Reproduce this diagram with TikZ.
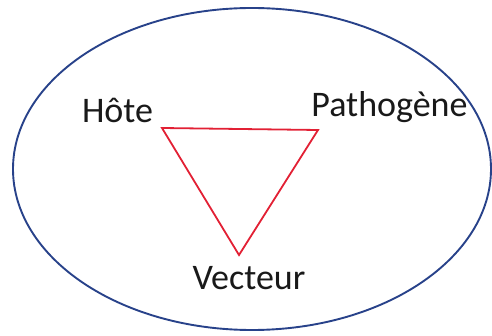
\documentclass[tikz,border=0pt]{standalone}
\usepackage{fontspec}
\setmainfont{Carlito}
\definecolor{ovalblue}{RGB}{40,66,138}
\definecolor{trired}{RGB}{226,32,52}
\tikzset{
    vertexlabel/.style={anchor=base, inner sep=0pt, font=\fontsize{36}{40}\selectfont, text=black!90}
}

\begin{document}
\begin{tikzpicture}[x=1pt,y=-1pt]
    \useasboundingbox (0,0) rectangle (492,336);

    % draw the oval
        \draw[ovalblue, line width=1.9pt] (252,169) ellipse [x radius=239, y radius=161];

    % mark corners of the triangle
        \coordinate (host) at (162,128);
        \coordinate (pathogen) at (318,130);
        \coordinate (vector) at (239,255);

    % draw triangle
        \draw[trired, line width=1.8pt, line join=miter] (host) -- (pathogen) -- (vector) -- cycle;

    % % label the corners
    \node[vertexlabel] (hostlabel) at (117.5,123) {Hôte};
    \node[vertexlabel] (pathogenlabel) at (389.5,117) {Pathogène};
    \node[vertexlabel] (vectorlabel) at (249,290) {Vecteur};

\end{tikzpicture}
\end{document}
